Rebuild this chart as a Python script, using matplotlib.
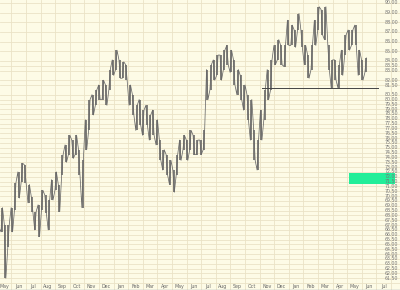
import numpy as np
import matplotlib
matplotlib.use("Agg")
import matplotlib.pyplot as plt

# Weekly high / low prices (oldest first, starting early May)
highs = [68.9, 68.8, 67.0, 67.0, 68.8, 71.4, 72.5, 73.4, 73.2, 71.2,
         69.9, 68.4, 69.1, 70.6, 70.1, 69.6, 71.7, 72.5, 71.2, 74.3,
         75.3, 76.3, 75.8, 76.3, 74.8, 73.7, 77.9, 80.0, 80.5, 81.0,
         81.5, 82.0, 81.5, 83.1, 84.1, 85.1, 84.1, 83.9, 83.6, 81.5,
         80.5, 79.4, 80.0, 78.9, 79.4, 78.4, 78.9, 77.9, 75.8, 74.8,
         74.3, 73.7, 72.7, 74.3, 75.8, 76.3, 75.8, 76.8, 76.3, 75.8,
         75.8, 76.8, 83.1, 83.6, 84.1, 84.6, 84.6, 85.1, 85.6, 85.1,
         84.1, 83.1, 82.5, 81.5, 80.5, 80.0, 76.8, 75.8, 78.9, 81.0,
         83.1, 84.1, 85.6, 86.2, 85.6, 85.6, 88.2, 87.7, 87.2, 88.9,
         87.2, 85.6, 84.6, 85.6, 88.2, 89.6, 89.3, 89.6, 85.6, 84.1,
         84.1, 83.6, 85.1, 86.7, 87.2, 87.2, 87.7, 85.1, 84.1, 84.3]
lows = [66.7, 66.3, 61.5, 64.7, 66.3, 68.6, 69.8, 71.5, 71.4, 69.3,
        68.4, 66.5, 65.8, 68.6, 68.3, 66.5, 69.6, 70.6, 68.4, 72.2,
        73.5, 74.3, 73.9, 74.3, 72.2, 68.8, 74.8, 76.8, 78.4, 79.4,
        80.0, 80.0, 79.4, 81.0, 82.5, 83.1, 82.2, 82.2, 82.0, 79.4,
        78.4, 76.8, 77.4, 76.3, 77.4, 75.8, 76.3, 75.3, 73.7, 72.7,
        72.2, 71.2, 70.4, 72.2, 73.7, 74.8, 73.7, 74.8, 74.3, 74.3,
        74.3, 74.8, 80.0, 81.0, 82.0, 82.5, 82.0, 83.1, 83.6, 82.8,
        81.5, 80.5, 80.0, 78.9, 77.9, 75.8, 73.7, 72.7, 75.8, 77.9,
        80.0, 81.0, 83.6, 84.1, 83.6, 83.4, 85.6, 85.6, 85.4, 87.2,
        85.4, 83.6, 82.2, 83.1, 85.6, 87.2, 86.7, 86.2, 83.1, 81.2,
        82.0, 81.2, 82.5, 84.6, 85.1, 85.6, 85.6, 82.5, 82.0, 82.8]

months = ["May", "Jun", "Jul", "Aug", "Sep", "Oct", "Nov", "Dec", "Jan", "Feb",
          "Mar", "Apr", "May", "Jun", "Jul", "Aug", "Sep", "Oct", "Nov", "Dec",
          "Jan", "Feb", "Mar", "Apr", "May", "Jun", "Jul"]

price_ticks = [61.5 + 0.5 * i for i in range(38)] + [80.5, 81.5, 82.0, 83.0, 83.5,
                                                    84.0, 85.0, 86.0, 87.0, 88.0,
                                                    89.0, 90.0]
support_level = 81.2
support_span = (18.17, 26.12)      # in months
highlight_band = (71.3, 72.4)
highlight_span = (24.13, 27.3)

bg = "#FDFBE6"
grid_c = "#EAE3C6"

fig = plt.figure(figsize=(4.0, 2.9), dpi=100, facecolor=bg)
ax = fig.add_axes([0, 0, 1, 1])
ax.set_facecolor(bg)
ax.set_xlim(0.226, 0.226 + 400 / 14.6)
ax.set_ylim(60.28, 90.3)

# grid
for m in range(1, len(months) + 1):
    ax.axvline(m, color=grid_c, lw=0.6, zorder=0)
for p in price_ticks + [61.0]:
    ax.axhline(p, color=grid_c, lw=0.6, zorder=0)

# highlight box
ax.fill_between(highlight_span, highlight_band[0], highlight_band[1],
                color="#22EE99", lw=0, zorder=1)

# price bars
n = len(highs)
x = (np.arange(n) + 0.5) * 12 / 52
ax.vlines(x, lows, highs, color="#5e5e5e", lw=1.1, zorder=3)
# jagged path between the bar extremes
zx = np.empty(2 * n)
zy = np.empty(2 * n)
zx[0::2] = x - 0.05
zx[1::2] = x + 0.05
zy[0::2] = np.where(np.arange(n) % 2 == 0, highs, lows)
zy[1::2] = np.where(np.arange(n) % 2 == 0, lows, highs)
ax.plot(zx, zy, color="#6a6a6a", lw=0.55, zorder=3)

# support line
ax.plot(support_span, [support_level, support_level], color="#444444", lw=0.7, zorder=4)

# price labels on the right
for p in price_ticks:
    ax.text(0.995, p, f"{p:.2f}", transform=ax.get_yaxis_transform(),
            ha="right", va="center", fontsize=3.4, color="#777777", zorder=5)

# month labels
for i, mname in enumerate(months):
    ax.text(i + 0.5, 0.011, mname, transform=ax.get_xaxis_transform(),
            ha="center", va="center", fontsize=3.4, color="#666666", zorder=5)

ax.set_xticks([])
ax.set_yticks([])
for s in ax.spines.values():
    s.set_visible(False)
ax.axhline(60.3, color="#9aa8b8", lw=1.0)

fig.savefig("out.png", dpi=100, facecolor=bg)
